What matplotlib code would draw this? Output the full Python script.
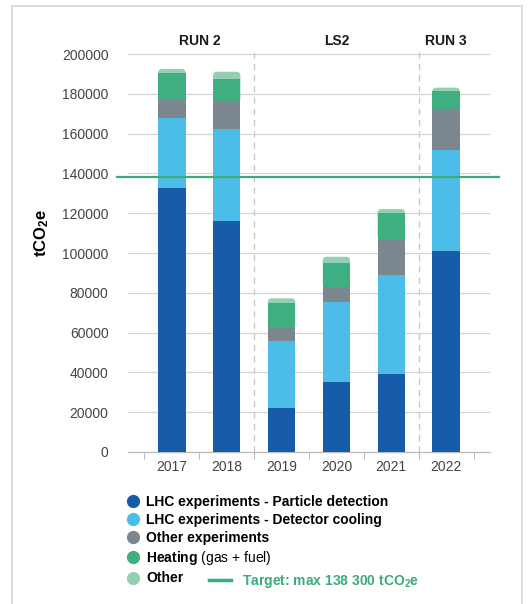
import matplotlib
matplotlib.use("Agg")
import matplotlib.pyplot as plt
import numpy as np
from matplotlib.lines import Line2D
from matplotlib.patches import Rectangle, FancyBboxPatch

plt.rcParams['font.family'] = ['Liberation Sans', 'DejaVu Sans']
plt.rcParams['mathtext.fontset'] = 'custom'
plt.rcParams['mathtext.rm'] = 'Liberation Sans'
plt.rcParams['mathtext.bf'] = 'Liberation Sans:bold'

# emissions per year, tCO2e
years = ["2017", "2018", "2019", "2020", "2021", "2022"]
particle_detection = [132500, 116000, 22300, 35000, 39000, 101200]
detector_cooling = [35200, 46200, 33600, 40400, 49800, 50600]
other_experiments = [9200, 13500, 6600, 7400, 18200, 20100]
heating = [13400, 11600, 12200, 12300, 12900, 9700]
other = [2200, 3800, 2500, 3000, 2200, 1500]
target = 138300

periods = ["RUN 2", "LS2", "RUN 3"]
period_centers = [0.5, 3, 5]
period_breaks = [1.5, 4.5]

series = [particle_detection, detector_cooling, other_experiments, heating, other]
names = ["LHC experiments - Particle detection", "LHC experiments - Detector cooling",
         "Other experiments", r"$\mathbf{Heating}$ (gas + fuel)", "Other"]
colors = ["#175ca8", "#4cbde9", "#7b868f", "#3fae81", "#93d0b3"]
target_color = "#3aab79"
bar_w = 0.5

fig = plt.figure(figsize=(5.28, 6.04), dpi=100)
ax = fig.add_axes([0.2424, 0.2517, 0.6856, 0.672])

x = np.arange(len(years))
bottom = np.zeros(len(years))
for vals, col in zip(series[:-1], colors[:-1]):
    ax.bar(x, vals, width=bar_w, bottom=bottom, color=col, zorder=3)
    bottom += np.array(vals)

ax.set_xlim(-0.8, 5.8)
ax.set_ylim(0, 204000)

# top segment gets rounded corners; it starts under the heating block
# so only the upper corners show
hpx = ax.get_window_extent().height / 204000
wpx = ax.get_window_extent().width / 6.6
r = 4 / wpx
aspect = (4 / hpx) / r
heat_base = bottom - np.array(heating)
for xi, base, top in zip(x, heat_base, bottom + np.array(other)):
    ax.add_patch(FancyBboxPatch((xi - bar_w / 2, base), bar_w, top - base,
                                boxstyle=f"round,pad=0,rounding_size={r}",
                                mutation_aspect=aspect, fc=colors[-1], ec="none", zorder=2))

ax.set_yticks(np.arange(0, 200001, 20000))
ax.set_yticklabels([str(v) for v in range(0, 200001, 20000)])
ax.yaxis.grid(True, color="#d4d4d4", lw=0.9, zorder=0)
ax.tick_params(axis="y", length=0, pad=14, labelsize=10, labelcolor="#444444")

# labels sit on the categories, tick marks sit between them
ax.set_xticks(x, years)
ax.tick_params(axis="x", length=0, pad=6, labelsize=10, labelcolor="#444444")
ax.set_xticks(np.arange(-0.5, 6, 1), minor=True)
ax.tick_params(axis="x", which="minor", length=5, color="#bbbbbb", width=0.8)

for side in ["top", "right", "left"]:
    ax.spines[side].set_visible(False)
ax.spines["bottom"].set_color("#bbbbbb")
ax.spines["bottom"].set_linewidth(0.9)

for b in period_breaks:
    ax.axvline(b, ymin=0, ymax=0.99, color="#c4c4c4", lw=0.9, ls=(0, (5, 4)), zorder=1)
for label, c in zip(periods, period_centers):
    ax.text(c, 1.012, label, transform=ax.get_xaxis_transform(), ha="center", va="center",
            fontsize=10, fontweight="bold", color="#1a1a1a")

ax.axhline(target, xmin=-0.03, xmax=1.025, color=target_color, lw=1.6, zorder=4, clip_on=False)

ax.set_ylabel(r"$\mathbf{tCO_2e}$", fontsize=12)
ax.yaxis.set_label_coords(-0.212, 0.54)

handles = [Line2D([], [], marker="o", ls="", markersize=8.5, color=c) for c in colors]
leg = fig.legend(handles, names, loc="upper left", bbox_to_anchor=(0.228, 0.19),
                 frameon=False, fontsize=10, handletextpad=0.45, labelspacing=0.3,
                 handlelength=1.0, borderaxespad=0)
for t in leg.get_texts():
    if "Heating" not in t.get_text():
        t.set_fontweight("bold")

tgt = fig.legend([Line2D([], [], color=target_color, lw=2.5)],
                 [r"Target: max 138 300 tCO$_\mathbf{2}$e"], loc="upper left",
                 bbox_to_anchor=(0.385, 0.061), frameon=False, fontsize=10,
                 handlelength=1.6, handletextpad=0.8, borderaxespad=0)
for t in tgt.get_texts():
    t.set_color(target_color)
    t.set_fontweight("bold")

fig.patches.append(Rectangle((12 / 528, -0.01), 510 / 528, 1 - 6 / 604 + 0.01,
                             transform=fig.transFigure, fill=False,
                             edgecolor="#d6d6d6", lw=1.2))

fig.savefig("out.png", dpi=100)
